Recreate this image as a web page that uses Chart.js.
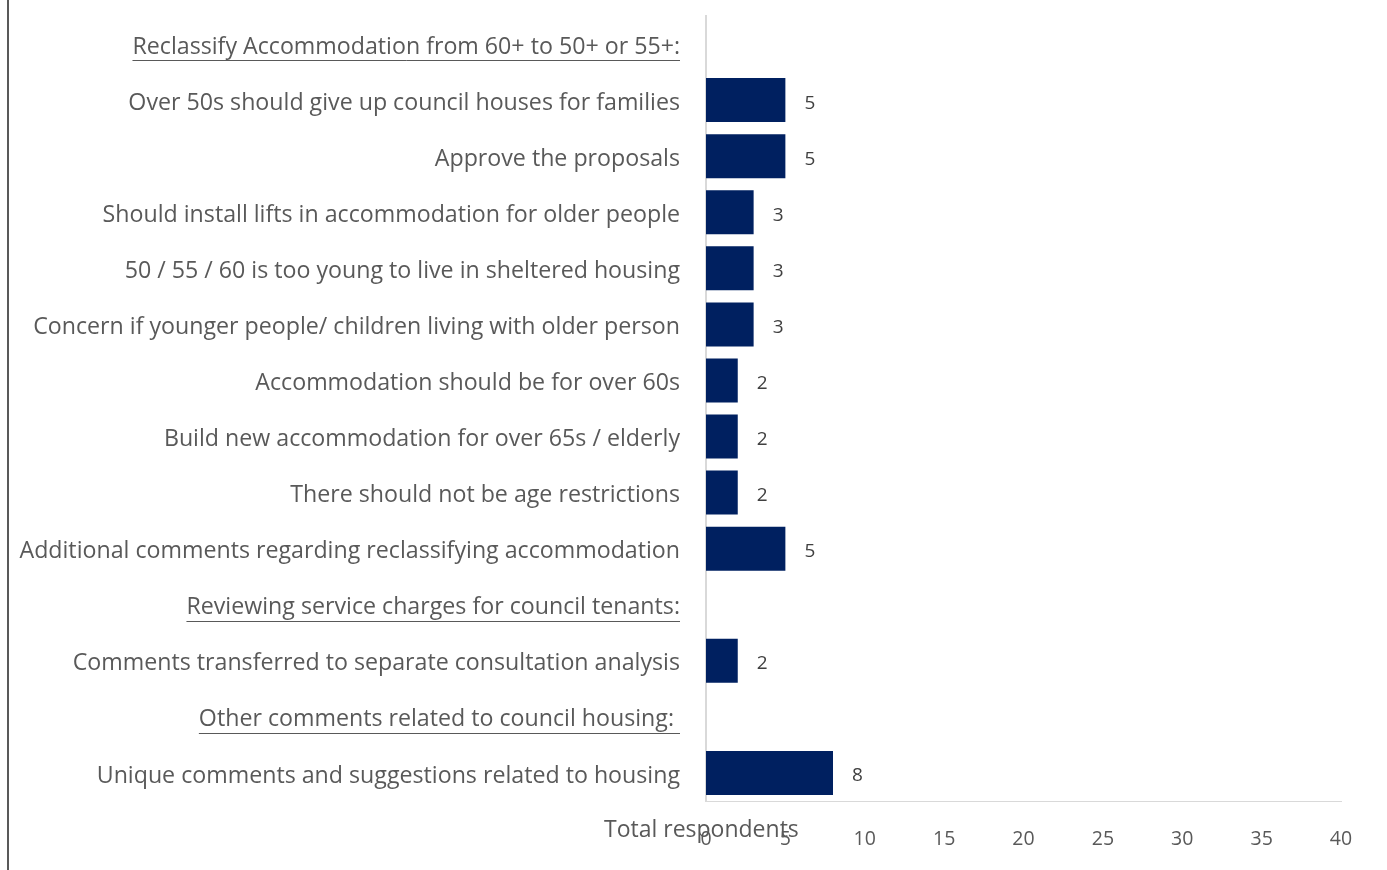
<!DOCTYPE html>
<html>
<head>
<meta charset="utf-8">
<script src="https://cdn.jsdelivr.net/npm/chart.js@4.4.1/dist/chart.umd.min.js"></script>
<style>
  html, body { margin: 0; padding: 0; background: #ffffff; }
  #wrap { position: relative; width: 1387px; height: 870px; }
  #frame { position: absolute; left: 7px; top: 0; width: 2px; height: 870px; background: #595959; }
  canvas { position: absolute; left: 0; top: 0; }
</style>
</head>
<body>
<div id="wrap">
  <canvas id="chart" width="1387" height="870"></canvas>
  <div id="frame"></div>
</div>
<script>
// Comment themes and number of respondents raising each one
const categories = [
  'Reclassify Accommodation from 60+ to 50+ or 55+:',
  'Over 50s should give up council houses for families',
  'Approve the proposals',
  'Should install lifts in accommodation for older people',
  '50 / 55 / 60 is too young to live in sheltered housing',
  'Concern if younger people/ children living with older person',
  'Accommodation should be for over 60s',
  'Build new accommodation for over 65s / elderly',
  'There should not be age restrictions',
  'Additional comments regarding reclassifying accommodation',
  'Reviewing service charges for council tenants:',
  'Comments transferred to separate consultation analysis',
  'Other comments related to council housing: ',
  'Unique comments and suggestions related to housing'
];
const respondents = [null, 5, 5, 3, 3, 3, 2, 2, 2, 5, null, 2, null, 8];
// Section headings are shown underlined, without a bar
const headingRows = [0, 10, 12];
const xTicks = [0, 5, 10, 15, 20, 25, 30, 35, 40];
const axisTitle = 'Total respondents';

const FONT = '"Open Sans", sans-serif';
const TEXT = '#595959';
const LABEL_SIZE = 23.2;

const extras = {
  id: 'extras',
  afterDatasetsDraw(chart) {
    const ctx = chart.ctx;
    const meta = chart.getDatasetMeta(0);
    // value labels to the right of each bar
    ctx.save();
    ctx.font = '19px ' + FONT;
    ctx.fillStyle = '#404040';
    ctx.textAlign = 'left';
    ctx.textBaseline = 'middle';
    meta.data.forEach((bar, i) => {
      const v = respondents[i];
      if (v === null) return;
      ctx.fillText(String(v), bar.x + 19, bar.y + 3);
    });
    ctx.restore();
  },
  afterDraw(chart) {
    const ctx = chart.ctx;
    const y = chart.scales.y;
    const x = chart.scales.x;
    // underline the section headings
    ctx.save();
    ctx.font = LABEL_SIZE + 'px ' + FONT;
    ctx.strokeStyle = TEXT;
    ctx.lineWidth = 1;
    headingRows.forEach(i => {
      const label = categories[i];
      const w = ctx.measureText(label).width;
      const right = x.left - 26;
      const py = Math.round(y.getPixelForValue(i) + 16) + 0.5;
      ctx.beginPath();
      ctx.moveTo(right - w, py);
      ctx.lineTo(right, py);
      ctx.stroke();
    });
    // axis title, sitting beside the first tick labels
    ctx.font = '23px ' + FONT;
    ctx.fillStyle = TEXT;
    ctx.textAlign = 'left';
    ctx.textBaseline = 'middle';
    ctx.fillText(axisTitle, x.left - 102, 830);
    ctx.restore();
  }
};

new Chart(document.getElementById('chart'), {
  type: 'bar',
  data: {
    labels: categories,
    datasets: [{
      data: respondents,
      backgroundColor: '#002060',
      borderWidth: 0,
      categoryPercentage: 1,
      barPercentage: 0.785
    }]
  },
  options: {
    indexAxis: 'y',
    responsive: false,
    animation: false,
    events: [],
    layout: { padding: { top: 16, right: 46, bottom: 0, left: 0 } },
    plugins: { legend: { display: false }, tooltip: { enabled: false } },
    scales: {
      x: {
        min: 0, max: 40,
        afterBuildTicks(scale) { scale.ticks = xTicks.map(v => ({ value: v })); },
        afterFit(scale) { scale.height = 69; },
        grid: { display: false, drawTicks: false },
        border: { display: true, color: '#d9d9d9', width: 1 },
        ticks: { color: TEXT, font: { family: FONT, size: 19.5 }, padding: 27 }
      },
      y: {
        afterFit(scale) {
          scale.width = 706;
          scale.paddingTop = 0;
          scale.paddingBottom = 0;
        },
        grid: { display: false, drawTicks: false },
        border: { display: true, color: '#d9d9d9', width: 2 },
        ticks: { color: TEXT, font: { family: FONT, size: LABEL_SIZE }, padding: 26, labelOffset: 3, autoSkip: false }
      }
    }
  },
  plugins: [extras]
});
</script>
</body>
</html>
